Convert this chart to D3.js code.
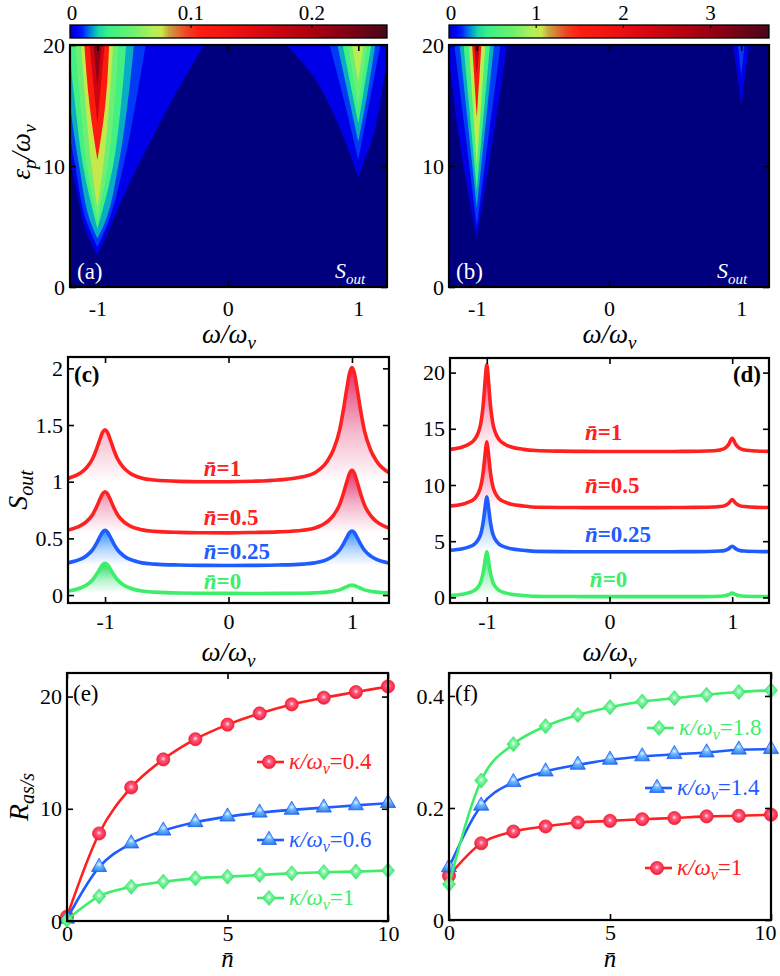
<!DOCTYPE html>
<html>
<head>
<meta charset="utf-8">
<script src="https://cdn.jsdelivr.net/npm/d3@7.9.0/dist/d3.min.js"></script>
<style>
  body { margin: 0; background: #fff; }
  svg { display: block; }
</style>
</head>
<body>
<svg id="fig" width="780" height="976"></svg>
<script>
// ---------- DATA ----------
// (a),(b) S_out maps: contour bands around each resonance.
// rows = [eps_p/omega_v, half-width to the left, half-width to the right]
const mapBandsA = [
  { c: -1, v: 0.004, rows: [[2.6,0,0],[5,0.1,0.1],[7.5,0.15,0.2],[10,0.2,0.31],[12.5,0.25,0.43],[15,0.3,0.55],[17.5,0.35,0.68],[20,0.4,0.82]] },
  { c: -1, v: 0.012, rows: [[3.3,0,0],[5,0.07,0.07],[10,0.17,0.2],[15,0.25,0.29],[20,0.32,0.37]] },
  { c: -1, v: 0.02,  rows: [[4,0,0],[5,0.04,0.045],[10,0.14,0.16],[15,0.21,0.23],[20,0.27,0.28]] },
  { c: -1, v: 0.035, rows: [[4.8,0,0],[10,0.11,0.12],[15,0.17,0.18],[20,0.22,0.22]] },
  { c: -1, v: 0.05,  rows: [[5.5,0,0],[10,0.08,0.08],[15,0.13,0.13],[20,0.17,0.16]] },
  { c: -1, v: 0.075, rows: [[6.5,0,0],[10,0.045,0.045],[15,0.09,0.09],[20,0.125,0.12]] },
  { c: -1, v: 0.11,  rows: [[10.5,0,0],[15,0.06,0.06],[20,0.1,0.09]] },
  { c: -1, v: 0.17,  rows: [[13.5,0,0],[20,0.06,0.055]] },
  { c: -1, v: 0.22,  rows: [[16.5,0,0],[20,0.03,0.03]] },
  { c: 1, v: 0.004, rows: [[9,0,0],[10,0.03,0.03],[12,0.1,0.1],[15,0.22,0.165],[17.5,0.35,0.2],[20,0.55,0.25]] },
  { c: 1, v: 0.012, rows: [[10.5,0,0],[15,0.1,0.08],[20,0.22,0.17]] },
  { c: 1, v: 0.02,  rows: [[12,0,0],[16,0.08,0.07],[20,0.16,0.13]] },
  { c: 1, v: 0.035, rows: [[13.5,0,0],[20,0.12,0.1]] },
  { c: 1, v: 0.05,  rows: [[15,0,0],[20,0.08,0.07]] },
  { c: 1, v: 0.07,  rows: [[17,0,0],[20,0.05,0.04]] },
];
const mapBandsB = [
  { c: -1, v: 0.05, rows: [[4,0,0],[12,0.13,0.12],[20,0.22,0.23]] },
  { c: -1, v: 0.17, rows: [[5,0,0],[20,0.17,0.18]] },
  { c: -1, v: 0.28, rows: [[6.5,0,0],[20,0.13,0.13]] },
  { c: -1, v: 0.5,  rows: [[8,0,0],[20,0.1,0.1]] },
  { c: -1, v: 1.0,  rows: [[10,0,0],[20,0.06,0.065]] },
  { c: -1, v: 1.6,  rows: [[14,0,0],[20,0.035,0.035]] },
  { c: -1, v: 2.6,  rows: [[17.5,0,0],[20,0.02,0.02]] },
  { c: 1, v: 0.05,  rows: [[15,0,0],[20,0.06,0.06]] },
  { c: 1, v: 0.17,  rows: [[17.5,0,0],[20,0.025,0.025]] },
];
const cbTicksA = [0, 0.1, 0.2];
const cbTicksB = [0, 1, 2, 3];

// (c) spectra, Lorentz-like peaks at omega = -1 and +1
const omegaC = [-1.3,-1.2,-1.15,-1.1,-1.07,-1.04,-1.02,-1,-0.98,-0.96,-0.93,-0.9,-0.85,-0.8,-0.7,-0.6,-0.4,-0.2,0,
  0.2,0.4,0.6,0.7,0.8,0.85,0.9,0.93,0.96,0.98,1,1.02,1.04,1.07,1.1,1.15,1.2,1.3];
const cN1 = [1.029,1.076,1.123,1.204,1.284,1.378,1.435,1.458,1.435,1.378,1.284,1.204,1.124,1.077,1.031,1.015,1.003,1.0,1.0,
  1.004,1.015,1.043,1.079,1.18,1.282,1.455,1.629,1.833,1.955,2.006,1.955,1.833,1.629,1.455,1.282,1.18,1.079];
const cN05 = [0.574,0.611,0.648,0.711,0.775,0.849,0.894,0.912,0.894,0.849,0.775,0.711,0.648,0.611,0.575,0.562,0.553,0.55,0.549,
  0.552,0.557,0.572,0.591,0.647,0.703,0.798,0.893,1.005,1.072,1.10,1.072,1.005,0.893,0.798,0.703,0.647,0.591];
const cN025 = [0.284,0.316,0.347,0.401,0.454,0.517,0.555,0.571,0.555,0.517,0.454,0.401,0.347,0.316,0.284,0.273,0.265,0.262,0.261,
  0.262,0.265,0.273,0.284,0.315,0.346,0.398,0.45,0.512,0.55,0.565,0.55,0.512,0.45,0.398,0.346,0.315,0.283];
const cN0 = [0.035,0.062,0.089,0.135,0.181,0.235,0.268,0.281,0.268,0.235,0.181,0.135,0.089,0.062,0.035,0.026,0.018,0.016,0.0145,
  0.014,0.0145,0.016,0.019,0.026,0.034,0.046,0.06,0.075,0.084,0.088,0.084,0.075,0.06,0.046,0.034,0.026,0.019];

// (d) spectra
const omegaD = [-1.3,-1.2,-1.15,-1.1,-1.07,-1.05,-1.04,-1.03,-1.02,-1.01,-1,-0.99,-0.98,-0.97,-0.96,-0.95,-0.93,-0.9,-0.85,-0.8,
  -0.7,-0.6,-0.4,-0.2,0,0.2,0.4,0.6,0.8,0.9,0.94,0.97,1,1.03,1.06,1.1,1.2,1.3];
const dN1 = [13.17,13.38,13.61,14.04,14.66,15.43,16.13,17.06,18.38,19.77,20.7,19.77,18.38,17.06,16.13,15.43,14.66,14.04,13.61,13.38,
  13.17,13.07,13.01,12.99,12.98,12.98,12.98,12.99,13.02,13.12,13.26,13.59,14.15,13.59,13.26,13.12,13.02,12.99];
const dN05 = [8.13,8.29,8.47,8.79,9.26,9.85,10.38,11.09,12.09,13.14,13.85,13.14,12.09,11.09,10.38,9.85,9.26,8.79,8.47,8.29,
  8.13,8.02,8.0,7.99,7.99,7.99,7.99,8.0,8.02,8.08,8.16,8.36,8.7,8.36,8.16,8.08,8.01,8.0];
const dN025 = [4.19,4.32,4.47,4.74,5.13,5.62,6.06,6.65,7.48,8.36,8.95,8.36,7.48,6.65,6.06,5.62,5.13,4.74,4.47,4.32,
  4.19,4.09,4.07,4.06,4.06,4.06,4.06,4.07,4.08,4.12,4.18,4.32,4.55,4.32,4.18,4.12,4.08,4.07];
const dN0 = [0.17,0.28,0.4,0.62,0.94,1.34,1.7,2.17,2.85,3.57,4.05,3.57,2.85,2.17,1.7,1.34,0.94,0.62,0.4,0.28,
  0.17,0.09,0.08,0.07,0.07,0.065,0.065,0.07,0.07,0.1,0.14,0.23,0.38,0.23,0.14,0.1,0.08,0.07];
const nbarNames = ['1', '0.5', '0.25', '0'];
const labelOmegaC = [-0.2, -0.2, -0.2, -0.2];
const labelSC = [1.05, 0.62, 0.32, 0.05];
const labelOmegaD = [-0.2, -0.2, -0.2, -0.16];
const labelSD = [14.0, 9.3, 4.93, 0.92];

// (e),(f) R_as/s versus n-bar
const nbar = [0,1,2,3,4,5,6,7,8,9,10];
const eK04 = [0.4,7.8,11.9,14.4,16.2,17.5,18.5,19.3,19.9,20.4,20.9];
const eK06 = [0.2,4.8,6.9,8.05,8.8,9.3,9.65,9.9,10.1,10.3,10.5];
const eK1 = [0.1,2.2,3.05,3.5,3.8,3.95,4.1,4.25,4.35,4.4,4.5];
const fK18 = [0.064,0.249,0.314,0.346,0.366,0.380,0.390,0.396,0.402,0.407,0.410];
const fK14 = [0.094,0.204,0.246,0.265,0.277,0.286,0.292,0.296,0.299,0.304,0.305];
const fK1 = [0.079,0.137,0.158,0.167,0.174,0.177,0.180,0.182,0.185,0.186,0.188];

// ---------- STYLE ----------
const FONT = "'Liberation Serif'";
const jetStops = [[0,'#0000c0'],[0.02,'#0000f4'],[0.04,'#0020ff'],[0.055,'#0060e8'],[0.07,'#0098d0'],[0.09,'#18d8a8'],
  [0.12,'#38f088'],[0.2,'#70f070'],[0.26,'#b0f058'],[0.29,'#c8e848'],[0.31,'#c8a840'],[0.34,'#e07030'],[0.37,'#f04020'],
  [0.41,'#ff1c10'],[0.5,'#f01410'],[0.6,'#dc0810'],[0.75,'#b00010'],[0.88,'#800014'],[1,'#480818']];
const jet = d3.scaleLinear().domain(jetStops.map(d => d[0])).range(jetStops.map(d => d[1])).clamp(true);
const RED = '#ff2020', BLUE = '#1f5cff', GREEN = '#3dee6a';
const PINK_FILL = '#e2306c', BLUE_FILL = '#2f8cff', GREEN_FILL = '#24dd66';

const svg = d3.select('#fig');
const defs = svg.append('defs');
svg.append('rect').attr('width', 780).attr('height', 976).attr('fill', '#fff');

// ---------- FRAME + TICKS ----------
function frame(g, x, y, o) {
  const [xl, xr] = x.range(), [yb, yt] = y.range();
  const styleAxis = (a) => {
    a.select('.domain').remove();
    a.selectAll('line').attr('stroke', '#000').attr('stroke-width', 1.6);
    a.selectAll('text').attr('font-size', 22).attr('fill', '#000');
  };
  g.append('g').attr('transform', `translate(0,${yb})`)
    .call(d3.axisBottom(x).tickValues(o.xt).tickSize(-6).tickPadding(o.xpad).tickFormat(o.xf)).call(styleAxis);
  g.append('g').attr('transform', `translate(0,${yt})`)
    .call(d3.axisTop(x).tickValues(o.xt).tickSize(-6).tickFormat('')).call(styleAxis);
  g.append('g').attr('transform', `translate(${xl},0)`)
    .call(d3.axisLeft(y).tickValues(o.yt).tickSize(-6).tickPadding(5).tickFormat(o.yf)).call(styleAxis);
  g.append('g').attr('transform', `translate(${xr},0)`)
    .call(d3.axisRight(y).tickValues(o.yt).tickSize(-6).tickFormat('')).call(styleAxis);
  g.append('rect').attr('x', xl).attr('y', yt).attr('width', xr - xl).attr('height', yb - yt)
    .attr('fill', 'none').attr('stroke', '#000').attr('stroke-width', 2.2);
}

function clip(id, l, t, r, b) {
  defs.append('clipPath').attr('id', id).append('rect')
    .attr('x', l).attr('y', t).attr('width', r - l).attr('height', b - t);
  return `url(#${id})`;
}

function omegaTitle(cx, by) {
  const t = svg.append('text').attr('x', cx).attr('y', by).attr('text-anchor', 'middle')
    .attr('font-size', 27).attr('font-style', 'italic');
  t.append('tspan').text('ω/ω');
  t.append('tspan').attr('font-size', 19).attr('dy', 6).text('v');
}

function soutLabel(g, px, py, color, size) {
  const t = g.append('text').attr('x', px).attr('y', py).attr('fill', color)
    .attr('font-size', size).attr('font-style', 'italic');
  t.append('tspan').text('S');
  t.append('tspan').attr('font-size', size * 0.68).attr('dy', size * 0.25).text('out');
}

// ---------- MAP PANELS (a),(b) ----------
function mapPanel(o) {
  const x = d3.scaleLinear().domain(o.xDom).range([o.l, o.r]);
  const y = d3.scaleLinear().domain([0, 20]).range([o.b, o.t]);
  const g = svg.append('g');
  const plot = g.append('g').attr('clip-path', clip(o.id, o.l, o.t, o.r, o.b));
  plot.append('rect').attr('x', o.l).attr('y', o.t).attr('width', o.r - o.l).attr('height', o.b - o.t)
    .attr('fill', '#00007e');
  d3.sort(o.bands, (d) => d.v).forEach((bd) => {
    const area = d3.area().curve(d3.curveMonotoneY)
      .y((d) => y(d[0])).x0((d) => x(bd.c - d[1])).x1((d) => x(bd.c + d[2]));
    plot.append('path').attr('d', area(bd.rows)).attr('fill', jet(bd.v / o.cbMax));
  });

  // colour bar
  const cb = d3.scaleLinear().domain([0, o.cbMax]).range([o.l, o.r]);
  const gid = o.id + '-cb';
  const grad = defs.append('linearGradient').attr('id', gid);
  jetStops.forEach((s) => grad.append('stop').attr('offset', s[0]).attr('stop-color', s[1]));
  g.append('rect').attr('x', o.l).attr('y', 25).attr('width', o.r - o.l).attr('height', 13)
    .attr('fill', `url(#${gid})`).attr('stroke', '#000').attr('stroke-width', 1.3);
  o.cbTicks.forEach((v) => {
    if (v > 0) g.append('line').attr('x1', cb(v)).attr('x2', cb(v)).attr('y1', 25).attr('y2', 28)
      .attr('stroke', '#000').attr('stroke-width', 1.2);
    g.append('text').attr('x', cb(v) + (v === 0 ? 2 : 0)).attr('y', 20).attr('text-anchor', 'middle')
      .attr('font-size', 21).text(v);
  });

  frame(g, x, y, { xt: [-1, 0, 1], xpad: 13, xf: (d) => (d < 0 ? '-' + -d : d), yt: [0, 10, 20], yf: (d) => d });
  g.append('text').attr('x', o.l + 7).attr('y', o.b - 8).attr('fill', '#fff').attr('font-size', 23).text(o.tag);
  soutLabel(g, o.r - 52, o.b - 9, '#fff', 22);
  omegaTitle((o.l + o.r) / 2 + 0.5, 343);
}

mapPanel({ id: 'pa', l: 70, r: 387, t: 45, b: 287, xDom: [-1.21, 1.22], cbMax: 0.262, cbTicks: cbTicksA, bands: mapBandsA, tag: '(a)' });
mapPanel({ id: 'pb', l: 449, r: 769, t: 45, b: 287, xDom: [-1.21, 1.21], cbMax: 3.67, cbTicks: cbTicksB, bands: mapBandsB, tag: '(b)' });

// y title for maps
{
  const t = svg.append('text').attr('transform', 'translate(30,152) rotate(-90)').attr('text-anchor', 'middle')
    .attr('font-size', 27).attr('font-style', 'italic');
  t.append('tspan').text('ε');
  t.append('tspan').attr('font-size', 19).attr('dy', 6).text('p');
  t.append('tspan').attr('dy', -6).text('/ω');
  t.append('tspan').attr('font-size', 19).attr('dy', 6).text('v');
}

// ---------- SPECTRUM PANELS (c),(d) ----------
function nbarText(g, px, py, val, color) {
  const t = g.append('text').attr('x', px).attr('y', py).attr('fill', color)
    .attr('font-size', 23).attr('font-weight', 'bold');
  t.append('tspan').attr('font-style', 'italic').text('n\u0304');
  t.append('tspan').text('=' + val);
}

function specPanel(o) {
  const x = d3.scaleLinear().domain([-1.3, 1.3]).range([o.l, o.r]);
  const y = d3.scaleLinear().domain(o.yDom).range([o.b, o.t]);
  const g = svg.append('g');
  const plot = g.append('g').attr('clip-path', clip(o.id, o.l, o.t, o.r, o.b));
  o.series.forEach((s, i) => {
    const pts = o.omega.map((w, k) => [w, s.vals[k]]);
    const lo = d3.min(s.vals), hi = d3.max(s.vals);
    const gid = `${o.id}-f${i}`;
    const grad = defs.append('linearGradient').attr('id', gid).attr('gradientUnits', 'userSpaceOnUse')
      .attr('x1', 0).attr('x2', 0).attr('y1', y(hi)).attr('y2', y(lo));
    grad.append('stop').attr('offset', 0).attr('stop-color', s.fill).attr('stop-opacity', 1);
    grad.append('stop').attr('offset', 0.55).attr('stop-color', s.fill).attr('stop-opacity', 0.35);
    grad.append('stop').attr('offset', 1).attr('stop-color', s.fill).attr('stop-opacity', 0);
    plot.append('path')
      .attr('d', d3.area().curve(d3.curveMonotoneX).x((d) => x(d[0])).y0(y(lo)).y1((d) => y(d[1]))(pts))
      .attr('fill', `url(#${gid})`);
    plot.append('path')
      .attr('d', d3.line().curve(d3.curveMonotoneX).x((d) => x(d[0])).y((d) => y(d[1]))(pts))
      .attr('fill', 'none').attr('stroke', s.color).attr('stroke-width', 3.6).attr('stroke-linejoin', 'round');
    nbarText(g, x(o.labelW[i]), y(o.labelS[i]), nbarNames[i], s.color);
  });
  frame(g, x, y, { xt: [-1, 0, 1], xpad: 10, xf: (d) => (d < 0 ? '-' + -d : d), yt: o.yt, yf: (d) => d });
  g.append('text').attr('x', o.tagX).attr('y', 382).attr('text-anchor', o.tagAnchor)
    .attr('font-size', 23).attr('font-weight', 'bold').text(o.tag);
  omegaTitle((o.l + o.r) / 2, 661);
}

specPanel({
  id: 'pc', l: 68, r: 389, t: 357, b: 603, yDom: [-0.07, 2.1], yt: [0, 0.5, 1, 1.5, 2], omega: omegaC,
  series: [
    { vals: cN1, color: RED, fill: PINK_FILL },
    { vals: cN05, color: RED, fill: PINK_FILL },
    { vals: cN025, color: BLUE, fill: BLUE_FILL },
    { vals: cN0, color: GREEN, fill: GREEN_FILL },
  ],
  labelW: labelOmegaC, labelS: labelSC, tag: '(c)', tagX: 74, tagAnchor: 'start',
});
specPanel({
  id: 'pd', l: 450, r: 769, t: 358, b: 603, yDom: [-0.5, 21.3], yt: [0, 5, 10, 15, 20], omega: omegaD,
  series: [
    { vals: dN1, color: RED, fill: PINK_FILL },
    { vals: dN05, color: RED, fill: PINK_FILL },
    { vals: dN025, color: BLUE, fill: BLUE_FILL },
    { vals: dN0, color: GREEN, fill: GREEN_FILL },
  ],
  labelW: labelOmegaD, labelS: labelSD, tag: '(d)', tagX: 761, tagAnchor: 'end',
});
{
  const t = svg.append('text').attr('transform', 'translate(27,490) rotate(-90)').attr('text-anchor', 'middle')
    .attr('font-size', 28).attr('font-style', 'italic');
  t.append('tspan').text('S');
  t.append('tspan').attr('font-size', 20).attr('dy', 6).text('out');
}

// ---------- RATIO PANELS (e),(f) ----------
function markerGrad(id, light, base, dark) {
  const rg = defs.append('radialGradient').attr('id', id).attr('cx', '50%').attr('cy', '45%').attr('r', '60%');
  rg.append('stop').attr('offset', 0).attr('stop-color', light);
  rg.append('stop').attr('offset', 0.3).attr('stop-color', base);
  rg.append('stop').attr('offset', 1).attr('stop-color', dark);
}
markerGrad('mk-red', '#ffe4ee', '#ff5a7c', '#ea1436');
markerGrad('mk-blue', '#e4f6ff', '#72bcff', '#2b7de6');
markerGrad('mk-green', '#eefff2', '#7ef4a2', '#30d864');

const rhombus = {
  draw(ctx, size) {
    const h = Math.sqrt(size) * 0.62, w = h * 0.86;
    ctx.moveTo(0, -h); ctx.lineTo(w, 0); ctx.lineTo(0, h); ctx.lineTo(-w, 0); ctx.closePath();
  },
};
const markerOf = {
  circle: d3.symbol(d3.symbolCircle, 135),
  triangle: d3.symbol(d3.symbolTriangle, 100),
  diamond: d3.symbol(rhombus, 150),
};

function legendText(g, px, py, val, color) {
  const t = g.append('text').attr('x', px).attr('y', py).attr('fill', color).attr('font-size', 23);
  t.append('tspan').attr('font-style', 'italic').text('κ/ω');
  t.append('tspan').attr('font-style', 'italic').attr('font-size', 16).attr('dy', 5).text('ν');
  t.append('tspan').attr('dy', -5).text('=' + val);
}

function ratioPanel(o) {
  const x = d3.scaleLinear().domain([0, 10]).range([o.l, o.r]);
  const y = d3.scaleLinear().domain(o.yDom).range([o.b, o.t]);
  const g = svg.append('g');
  o.series.forEach((s) => {
    const pts = nbar.map((n, k) => [n, s.vals[k]]);
    g.append('path')
      .attr('d', d3.line().curve(d3.curveMonotoneX).x((d) => x(d[0])).y((d) => y(d[1]))(pts))
      .attr('fill', 'none').attr('stroke', s.color).attr('stroke-width', 2.6);
    g.append('g').selectAll('path').data(pts).join('path')
      .attr('transform', (d) => `translate(${x(d[0])},${y(d[1])})`)
      .attr('d', markerOf[s.mark]()).attr('fill', `url(#${s.grad})`)
      .attr('stroke', s.color).attr('stroke-width', 0.8);
    // legend
    g.append('line').attr('x1', o.l + s.leg[0]).attr('x2', o.l + s.leg[0] + 27)
      .attr('y1', s.leg[1]).attr('y2', s.leg[1]).attr('stroke', s.color).attr('stroke-width', 2.6);
    g.append('path').attr('transform', `translate(${o.l + s.leg[0] + 12},${s.leg[1]})`)
      .attr('d', markerOf[s.mark]()).attr('fill', `url(#${s.grad})`).attr('stroke', s.color).attr('stroke-width', 0.8);
    legendText(g, o.l + s.leg[0] + 32, s.leg[1] + 7, s.name, s.color);
  });
  frame(g, x, y, { xt: [0, 5, 10], xpad: 4, xf: (d) => d, yt: o.yt, yf: (d) => d });
  g.selectAll('text').filter(function () { return this.textContent === '10' && o.pullTen; }).attr('dx', -6);
  g.append('text').attr('x', o.l + 6).attr('y', 701).attr('font-size', 23).text(o.tag);
  const t = svg.append('text').attr('x', (o.l + o.r) / 2).attr('y', 967).attr('text-anchor', 'middle')
    .attr('font-size', 25).attr('font-style', 'italic');
  t.text('n\u0304');
}

ratioPanel({
  l: 67, r: 388, t: 673, b: 921, yDom: [0, 22.1], yt: [0, 10, 20], tag: '(e)', pullTen: false,
  series: [
    { vals: eK04, color: RED, grad: 'mk-red', mark: 'circle', name: '0.4', leg: [190, 762] },
    { vals: eK06, color: BLUE, grad: 'mk-blue', mark: 'triangle', name: '0.6', leg: [190, 840] },
    { vals: eK1, color: GREEN, grad: 'mk-green', mark: 'diamond', name: '1', leg: [190, 898] },
  ],
});
ratioPanel({
  l: 449, r: 771, t: 673, b: 920, yDom: [0, 0.441], yt: [0, 0.2, 0.4], tag: '(f)', pullTen: true,
  series: [
    { vals: fK1, color: RED, grad: 'mk-red', mark: 'circle', name: '1', leg: [196, 868] },
    { vals: fK14, color: BLUE, grad: 'mk-blue', mark: 'triangle', name: '1.4', leg: [196, 788] },
    { vals: fK18, color: GREEN, grad: 'mk-green', mark: 'diamond', name: '1.8', leg: [198, 728] },
  ],
});
{
  const t = svg.append('text').attr('transform', 'translate(28,797) rotate(-90)').attr('text-anchor', 'middle')
    .attr('font-size', 28).attr('font-style', 'italic');
  t.append('tspan').text('R');
  t.append('tspan').attr('font-size', 20).attr('dy', 6).text('as/s');
}

// serif everywhere (axis groups set their own sans-serif attribute)
svg.selectAll('g').attr('font-family', null);
svg.selectAll('text').style('font-family', FONT);
</script>
</body>
</html>
